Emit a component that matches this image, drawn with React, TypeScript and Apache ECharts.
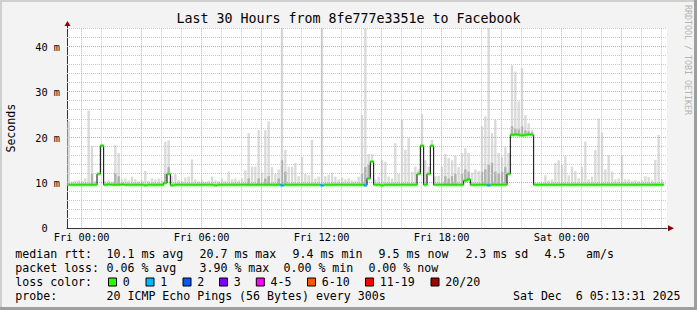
import React, { useEffect, useRef } from 'react';
import * as echarts from 'echarts';

const titleText = 'Last 30 Hours from 8fe777e3351e to Facebook';
const startHour = -44 / 60; // Thu 23:16, in hours relative to Fri 00:00
const stepHours = 1 / 6; // 10-minute bins
const spanHours = 30;
const yMax = 44.2;

const xTickHours = [0, 6, 12, 18, 24];
const xTickLabels = ['Fri 00:00', 'Fri 06:00', 'Fri 12:00', 'Fri 18:00', 'Sat 00:00'];
const yTickValues = [0, 10, 20, 30, 40];
const yTickLabels = ['0\u00a0\u00a0', '10 m', '20 m', '30 m', '40 m'];

// Top of the smoke (slowest ping) per 10-minute bin, ms
const smokeTop = [
  23.6, 10.3, 10.5, 10.6, 10.4, 11.0, 26.0, 18.2, 10.4, 12.2,
  18.6, 10.4, 10.6, 10.3, 18.4, 16.6, 10.8, 11.0, 10.6, 11.4,
  10.8, 10.4, 10.6, 12.7, 10.5, 11.0, 10.8, 11.0, 10.6, 19.1,
  19.4, 11.5, 12.0, 10.6, 10.5, 11.2, 11.4, 15.2, 10.8, 10.4,
  10.6, 10.3, 10.5, 11.4, 10.6, 10.4, 11.0, 10.5, 12.5, 10.8,
  11.0, 10.6, 11.0, 12.8, 21.0, 13.6, 13.6, 21.7, 12.3, 21.7,
  23.6, 13.5, 12.0, 13.0, 45.0, 17.3, 13.6, 13.6, 14.4, 11.5,
  15.8, 12.0, 11.7, 19.5, 11.0, 11.4, 45.0, 11.5, 11.8, 12.3,
  11.4, 10.8, 11.2, 10.8, 11.0, 10.6, 10.5, 11.4, 25.0, 45.0,
  16.4, 16.4, 10.8, 11.4, 15.1, 14.7, 11.4, 11.0, 18.8, 12.0,
  24.0, 17.3, 19.9, 12.5, 13.6, 13.0, 25.2, 15.0, 13.6, 19.5,
  11.5, 11.6, 13.6, 16.4, 15.5, 15.0, 16.0, 13.5, 16.6, 17.7,
  16.6, 12.3, 13.0, 12.6, 22.5, 24.7, 45.0, 21.0, 23.9, 16.6,
  15.8, 18.0, 16.6, 36.0, 34.6, 28.0, 35.4, 25.0, 23.2, 21.7,
  9.9, 9.9, 9.9, 11.7, 10.6, 10.8, 14.4, 15.0, 14.0, 16.0,
  11.7, 13.6, 12.6, 11.0, 13.6, 19.1, 10.8, 11.4, 17.3, 24.2,
  21.1, 13.0, 16.2, 12.5, 10.8, 11.0, 16.2, 10.8, 10.8, 10.5,
  10.6, 10.4, 10.6, 11.5, 11.3, 10.6, 15.1, 20.6, 10.8, null,
];

// Dense (darker) part of the smoke per bin, ms (0 = none)
const smokeDark = [
  0, 0, 0, 0, 0, 0, 0, 12.0, 0, 0,
  0, 0, 0, 0, 12.2, 11.5, 0, 0, 0, 0,
  0, 0, 0, 0, 0, 0, 0, 0, 0, 12.0,
  13.5, 0, 0, 0, 0, 0, 0, 0, 0, 0,
  0, 0, 0, 0, 0, 0, 0, 0, 0, 0,
  0, 0, 0, 0, 11.0, 0, 0, 11.0, 0, 11.0,
  11.5, 0, 0, 11.0, 15.0, 12.5, 0, 0, 0, 0,
  0, 0, 0, 0, 0, 0, 0, 0, 0, 0,
  0, 0, 0, 0, 0, 0, 0, 0, 12.0, 13.5,
  14.0, 0, 0, 0, 0, 0, 0, 0, 0, 0,
  0, 0, 0, 0, 0, 11.5, 0, 0, 0, 0,
  0, 0, 0, 11.5, 11.0, 11.5, 12.0, 0, 12.0, 13.0,
  12.5, 0, 0, 0, 12.5, 13.0, 14.0, 14.5, 12.5, 12.0,
  12.5, 13.5, 0, 22.5, 22.0, 21.8, 22.5, 21.6, 21.4, 21.2,
  0, 0, 0, 0, 0, 0, 0, 0, 0, 0,
  0, 0, 0, 0, 0, 0, 0, 0, 0, 0,
  0, 0, 0, 0, 0, 0, 0, 0, 0, 0,
  0, 0, 0, 0, 0, 0, 0, 0, 0, 0,
];

// Median RTT per bin, ms
const median = [
  9.6, 9.6, 9.6, 9.6, 9.6, 9.6, 9.6, 9.6, 9.6, 12.0,
  18.2, 9.6, 9.7, 9.6, 9.6, 9.6, 9.7, 9.6, 9.6, 9.6,
  9.6, 9.6, 9.6, 9.5, 9.6, 9.6, 9.6, 9.6, 9.6, 10.0,
  12.0, 9.5, 9.6, 9.6, 9.6, 9.6, 9.6, 9.6, 9.6, 9.6,
  9.6, 9.6, 9.6, 9.6, 9.5, 9.6, 9.6, 9.6, 9.6, 9.6,
  9.6, 9.6, 9.6, 9.6, 9.6, 9.6, 9.6, 9.6, 9.6, 9.6,
  9.6, 9.6, 9.6, 9.6, 9.5, 9.6, 9.6, 9.6, 9.6, 9.6,
  9.6, 9.6, 9.6, 9.6, 9.6, 9.6, 9.5, 9.6, 9.6, 9.6,
  9.6, 9.6, 9.6, 9.6, 9.6, 9.6, 9.6, 9.6, 9.6, 9.5,
  11.0, 14.7, 9.6, 9.6, 9.5, 9.6, 9.6, 9.6, 9.6, 9.6,
  9.6, 9.6, 9.6, 9.6, 9.6, 12.0, 18.2, 9.6, 12.0, 18.2,
  9.6, 9.6, 9.6, 9.6, 9.6, 9.6, 9.6, 9.6, 9.6, 10.5,
  10.8, 9.6, 9.6, 9.6, 9.6, 9.6, 9.5, 9.6, 9.6, 9.6,
  9.6, 9.6, 12.0, 20.6, 20.7, 20.6, 20.5, 20.6, 20.7, 20.6,
  9.6, 9.6, 9.6, 9.6, 9.6, 9.6, 9.6, 9.6, 9.6, 9.6,
  9.6, 9.6, 9.6, 9.6, 9.6, 9.6, 9.6, 9.6, 9.6, 9.6,
  9.6, 9.6, 9.6, 9.6, 9.6, 9.6, 9.6, 9.6, 9.6, 9.6,
  9.6, 9.6, 9.6, 9.6, 9.6, 9.6, 9.6, 9.6, 9.6, null,
];

// [bin, lost pings] for bins with packet loss
const lossEvents = [[64, 1], [76, 1], [89, 1], [126, 1]];

const lossColors = ['#26ff00', '#00b8ff', '#0059ff', '#7e00ff', '#ff00ff', '#ff5500', '#ff0000', '#a00000'];
const lossLabels = ['0', '1', '2', '3', '4-5', '6-10', '11-19', '20/20'];

const rttLabel = 'median rtt:';
const rttStats = ['10.1 ms avg', '20.7 ms max', '9.4 ms min', '9.5 ms now', '2.3 ms sd', '4.5', 'am/s'];
const lossLabel = 'packet loss:';
const lossStats = ['0.06 % avg', '3.90 % max', '0.00 % min', '0.00 % now'];
const lossColorLabel = 'loss color:';
const probeLabel = 'probe:';
const probeText = '20 ICMP Echo Pings (56 Bytes) every 300s';
const dateText = 'Sat Dec\u00a0\u00a06 05:13:31 2025';
const watermark = 'RRDTOOL / TOBI OETIKER';

export default function App() {
  const ref = useRef<HTMLDivElement>(null);

  useEffect(() => {
    const chart = echarts.init(ref.current!, null, { renderer: 'svg' });
    const mono = 'DejaVu Sans Mono';
    const red = '#eb9c9c';
    const gray = '#c8c8c8';

    const times = median.map((_, i) => startHour + (i + 0.5) * stepHours);
    const lossOf = (i: number) => {
      const e = lossEvents.find((x) => x[0] === i);
      return e ? e[1] : 0;
    };

    const smokeData: number[][] = [];
    times.forEach((t, i) => {
      if (smokeTop[i] == null || median[i] == null) return;
      smokeData.push([t, median[i] as number, smokeDark[i], smokeTop[i] as number]);
    });
    const lineData = times.map((t, i) => [t, median[i]]);
    const ptsData: any[] = [];
    times.forEach((t, i) => {
      if (median[i] == null) return;
      ptsData.push({ value: [t, median[i]], itemStyle: { color: lossColors[lossOf(i)] } });
    });

    const hGrid: number[][] = [];
    for (let v = 2; v <= 44; v += 2) hGrid.push([startHour, v]);
    const vGrid: number[][] = [];
    for (let h = Math.ceil(startHour); h <= startHour + spanHours; h += 1) vGrid.push([h + 0, 0]);

    const textEl = (x: number, y: number, text: string, extra: any = {}) => ({
      type: 'text',
      x,
      y,
      silent: true,
      style: {
        text,
        fill: '#000',
        font: `11.6px "${mono}"`,
        verticalAlign: 'middle',
        ...extra,
      },
    });

    const rttX = [106.5, 199.5, 292.6, 378.6, 465.4, 544.4, 586];
    const lossX = [106.5, 199.5, 283.5, 368.4];
    const sqX = [108.5, 146, 183, 219.5, 256.3, 307.5, 365.5, 431];
    const y1 = 254.3, y2 = 268.3, y3 = 282.3, y4 = 296.3;

    const graphics: any[] = [
      { type: 'rect', shape: { x: 0, y: 0, width: 697, height: 2 }, style: { fill: '#cfcfcf' }, silent: true },
      { type: 'rect', shape: { x: 0, y: 0, width: 2, height: 310 }, style: { fill: '#cfcfcf' }, silent: true },
      { type: 'rect', shape: { x: 0, y: 307, width: 697, height: 3 }, style: { fill: '#9e9e9e' }, silent: true },
      { type: 'rect', shape: { x: 694, y: 0, width: 3, height: 310 }, style: { fill: '#9e9e9e' }, silent: true },
      { type: 'line', shape: { x1: 67.5, y1: 25, x2: 67.5, y2: 29 }, style: { stroke: '#333', lineWidth: 1 }, silent: true },
      { type: 'polygon', shape: { points: [[64.5, 26], [70.5, 26], [67.5, 21]] }, style: { fill: '#8b0000' }, silent: true },
      { type: 'polygon', shape: { points: [[668, 225.3], [668, 231.3], [674, 228.3]] }, style: { fill: '#8b0000' }, silent: true },
      {
        type: 'text', x: 688, y: 60, rotation: -Math.PI / 2, silent: true,
        style: { text: watermark, fill: '#b4b4b4', font: `8.3px "${mono}"`, align: 'center', verticalAlign: 'middle' },
      },
      textEl(15.3, y1, rttLabel),
      ...rttStats.map((s, i) => textEl(rttX[i], y1, s)),
      textEl(15.3, y2, lossLabel),
      ...lossStats.map((s, i) => textEl(lossX[i], y2, s)),
      textEl(15.3, y3, lossColorLabel),
      ...lossColors.map((c, i) => ({
        type: 'rect', silent: true,
        shape: { x: sqX[i], y: y3 - 4.3, width: 8, height: 8 },
        style: { fill: c, stroke: '#000', lineWidth: 1 },
      })),
      ...lossLabels.map((s, i) => textEl(sqX[i] + 14.3, y3, s)),
      textEl(15.3, y4, probeLabel),
      textEl(106.5, y4, probeText),
      textEl(680.5, y4, dateText, { align: 'right' }),
    ];

    const gridLine = (vertical: boolean) => (params: any, api: any) => {
      const a = api.value(0);
      const b = api.value(1);
      if (vertical) {
        const p0 = api.coord([a, 0]);
        const p1 = api.coord([a, yMax]);
        const x = Math.round(p0[0]) - 0.5;
        return {
          type: 'line',
          shape: { x1: x, y1: p0[1], x2: x, y2: p1[1] },
          style: { stroke: Math.abs(a % 3) < 1e-9 ? red : gray, lineWidth: 1, lineDash: [1, 1] },
        };
      }
      const p0 = api.coord([startHour, b]);
      const p1 = api.coord([startHour + spanHours, b]);
      const y = Math.round(p0[1]) - 0.5;
      return {
        type: 'line',
        shape: { x1: p0[0], y1: y, x2: p1[0], y2: y },
        style: { stroke: b % 10 === 0 ? red : gray, lineWidth: 1, lineDash: [1, 1] },
      };
    };

    chart.setOption({
      animation: false,
      backgroundColor: '#f3f3f3',
      title: {
        text: titleText,
        left: 'center',
        top: 12,
        padding: 0,
        textStyle: { fontFamily: mono, fontSize: 13.3, fontWeight: 'normal', color: '#000' },
      },
      grid: {
        left: 67, top: 28, width: 600, height: 200.3,
        containLabel: false,
        outerBoundsMode: 'none',
        show: true, backgroundColor: '#ffffff', borderWidth: 0,
      },
      xAxis: {
        type: 'value',
        min: startHour,
        max: startHour + spanHours,
        axisLine: { show: true, onZero: false, lineStyle: { color: '#333', width: 1 } },
        axisTick: { show: false },
        splitLine: { show: false },
        axisLabel: {
          customValues: xTickHours,
          formatter: (v: number) => {
            const k = xTickHours.findIndex((h) => Math.abs(h - v) < 1e-6);
            return k >= 0 ? xTickLabels[k] : '';
          },
          fontFamily: mono, fontSize: 10.3, color: '#000', margin: 4,
        },
      },
      yAxis: {
        type: 'value',
        min: 0,
        max: yMax,
        interval: 2,
        name: 'Seconds',
        nameLocation: 'middle',
        nameRotate: 90,
        nameGap: 50,
        nameTextStyle: { fontFamily: mono, fontSize: 11.6, color: '#000' },
        axisLine: { show: true, onZero: false, lineStyle: { color: '#333', width: 1 } },
        axisTick: { show: false },
        splitLine: { show: false },
        axisLabel: {
          formatter: (v: number) => {
            const k = yTickValues.findIndex((y) => Math.abs(y - v) < 1e-6);
            return k >= 0 ? yTickLabels[k] : '';
          },
          fontFamily: mono, fontSize: 10.3, color: '#000', margin: 7,
        },
      },
      series: [
        {
          type: 'custom',
          z: 2,
          silent: true,
          data: smokeData,
          renderItem: (params: any, api: any) => {
            const t = api.value(0);
            const lo = api.value(1);
            const dark = api.value(2);
            const hi = Math.min(api.value(3), yMax);
            const w = api.size([stepHours, 0])[0] * 0.72;
            const pLo = api.coord([t, lo]);
            const pHi = api.coord([t, hi]);
            const children: any[] = [];
            if (hi > lo) {
              children.push({
                type: 'rect',
                shape: { x: pLo[0] - w / 2, y: pHi[1], width: w, height: pLo[1] - pHi[1] },
                style: { fill: '#dadada' },
              });
            }
            if (dark > lo) {
              const pD = api.coord([t, dark]);
              children.push({
                type: 'rect',
                shape: { x: pLo[0] - w / 2, y: pD[1], width: w, height: pLo[1] - pD[1] },
                style: { fill: '#b0b0b0' },
              });
            }
            return { type: 'group', children };
          },
        },
        {
          type: 'custom',
          z: 3,
          silent: true,
          data: hGrid,
          renderItem: gridLine(false),
        },
        {
          type: 'custom',
          z: 3,
          silent: true,
          data: vGrid,
          renderItem: gridLine(true),
        },
        {
          type: 'line',
          z: 4,
          silent: true,
          step: 'middle',
          showSymbol: false,
          data: lineData,
          lineStyle: { color: '#000', width: 1 },
        },
        {
          type: 'scatter',
          z: 5,
          silent: true,
          symbol: 'rect',
          symbolSize: [3.6, 3],
          data: ptsData,
        },
      ],
      graphic: graphics,
    });

    return () => chart.dispose();
  }, []);

  return <div ref={ref} style={{ position: 'absolute', left: 0, top: 0, width: 697, height: 310 }} />;
}
